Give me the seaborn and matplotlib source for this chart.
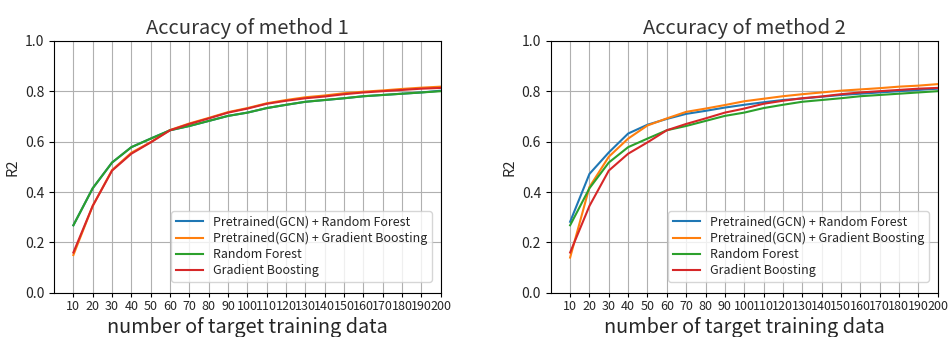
import pandas as pd
import numpy as np
import matplotlib
matplotlib.use('Agg')
import matplotlib.pyplot as plt
import seaborn as sns

plt.rcParams['font.family'] = ['Noto Sans CJK JP', 'DejaVu Sans']

# number of target training data
n_data = [10, 20, 30, 40, 50, 60, 70, 80, 90, 100,
          110, 120, 130, 140, 150, 160, 170, 180, 190, 200]

labels = ['Pretrained(GCN) + Random Forest',
          'Pretrained(GCN) + Gradient Boosting',
          'Random Forest',
          'Gradient Boosting']

# baselines (same in both panels)
rf = [0.268, 0.415, 0.517, 0.578, 0.612, 0.645, 0.662, 0.682, 0.702, 0.715,
      0.733, 0.746, 0.758, 0.765, 0.772, 0.780, 0.785, 0.790, 0.795, 0.800]
gb = [0.160, 0.345, 0.485, 0.552, 0.597, 0.645, 0.670, 0.692, 0.715, 0.731,
      0.750, 0.762, 0.772, 0.779, 0.788, 0.795, 0.800, 0.805, 0.810, 0.813]

# method 1
m1_rf = [0.268, 0.415, 0.517, 0.578, 0.612, 0.645, 0.662, 0.682, 0.702, 0.715,
         0.733, 0.746, 0.758, 0.765, 0.772, 0.780, 0.785, 0.790, 0.795, 0.802]
m1_gb = [0.150, 0.345, 0.487, 0.556, 0.598, 0.646, 0.672, 0.694, 0.717, 0.733,
         0.752, 0.765, 0.776, 0.783, 0.792, 0.798, 0.803, 0.809, 0.814, 0.818]

# method 2
m2_rf = [0.282, 0.472, 0.557, 0.632, 0.667, 0.690, 0.710, 0.722, 0.735, 0.746,
         0.756, 0.765, 0.771, 0.778, 0.785, 0.790, 0.795, 0.800, 0.805, 0.810]
m2_gb = [0.140, 0.420, 0.540, 0.612, 0.664, 0.692, 0.718, 0.731, 0.745, 0.760,
         0.770, 0.780, 0.788, 0.795, 0.802, 0.807, 0.812, 0.818, 0.822, 0.828]

palette = ['#1f77b4', '#ff7f0e', '#2ca02c', '#d62728']
text_col = '#262626'


def make_df(a, b):
    rows = []
    for lab, vals in zip(labels, [a, b, rf, gb]):
        for x, y in zip(n_data, vals):
            rows.append({'n': x, 'R2': y, 'model': lab})
    return pd.DataFrame(rows)


fig = plt.figure(figsize=(9.48, 3.37), dpi=100, facecolor='white')
ax1 = fig.add_axes([0.057, 0.131, 0.408, 0.748])
ax2 = fig.add_axes([0.581, 0.131, 0.408, 0.748])

for ax, (a, b), title in [(ax1, (m1_rf, m1_gb), 'Accuracy of method 1'),
                          (ax2, (m2_rf, m2_gb), 'Accuracy of method 2')]:
    df = make_df(a, b)
    sns.lineplot(data=df, x='n', y='R2', hue='model', hue_order=labels,
                 palette=palette, linewidth=1.5, ax=ax)
    ax.set_xlim(0, 200)
    ax.set_ylim(0, 1.0)
    ax.set_xticks(n_data)
    ax.set_xticklabels([str(v) for v in n_data], fontsize=9, color=text_col)
    ax.set_yticks(np.arange(0, 1.01, 0.2))
    ax.set_yticklabels(['%.1f' % v for v in np.arange(0, 1.01, 0.2)],
                       fontsize=10, color=text_col)
    ax.grid(True, color='#b0b0b0', linewidth=0.8)
    ax.set_axisbelow(True)
    ax.set_title(title, fontsize=14.5, color='#333333', pad=5)
    ax.set_xlabel('number of target training data', fontsize=14.3,
                  labelpad=3, color=text_col)
    ax.set_ylabel('R2', fontsize=10.5, color=text_col)
    ax.tick_params(axis='x', pad=2, length=3)
    leg = ax.legend(loc='lower right', bbox_to_anchor=(0.977, 0.045),
                    fontsize=9, framealpha=0.8, borderaxespad=0,
                    handlelength=2.2, labelspacing=0.25, borderpad=0.35)
    for t in leg.get_texts():
        t.set_color(text_col)

plt.savefig('out.png', dpi=100)
